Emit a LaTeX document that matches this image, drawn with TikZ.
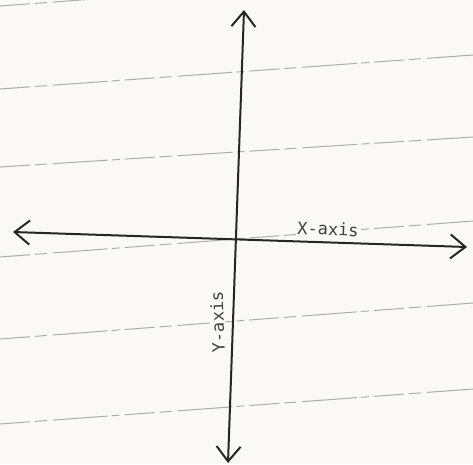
\documentclass[tikz,border=0pt]{standalone}
\usepackage{fontspec}
\newfontfamily\axisfont{DejaVu Sans Mono}
\usetikzlibrary{arrows.meta}
\definecolor{paper}{RGB}{251,249,245}

\begin{document}
\begin{tikzpicture}[x=1pt, y=-1pt,
  ruling/.style={draw=gray!65, line width=1pt, dash pattern=on 30pt off 5pt on 12pt off 6pt on 55pt off 4pt on 8pt off 5pt},
  axis/.style={draw=black!85, line width=2pt, {Straight Barb[length=15pt,width=24pt]}-{Straight Barb[length=15pt,width=24pt]}},
  axislabel/.style={font=\axisfont\fontsize{17}{18}\selectfont, text=black!75, fill=paper, inner sep=1pt}]
  \fill[paper] (0,0) rectangle (473,464);
  \useasboundingbox (0,0) rectangle (473,464);

  \begin{scope}
    \clip (0,0) rectangle (473,464);
    \foreach \yl/\yr in {6/-29, 89/55, 167/137, 257/221, 339/303, 424/389}
      \draw[ruling] (0,\yl) -- (473,\yr);
  \end{scope}

  \coordinate (xleft) at (13,232);
  \coordinate (xright) at (467,247);
  \coordinate (ytop) at (244,10);
  \coordinate (ybottom) at (228,463);

  \draw[axis] (xleft) -- (xright);
  \draw[axis] (ybottom) -- (ytop);

  \node[axislabel, rotate=-2] (xlabel) at (328,229) {X-axis};
  \node[axislabel, rotate=92] (ylabel) at (217.5,322) {Y-axis};
\end{tikzpicture}
\end{document}
